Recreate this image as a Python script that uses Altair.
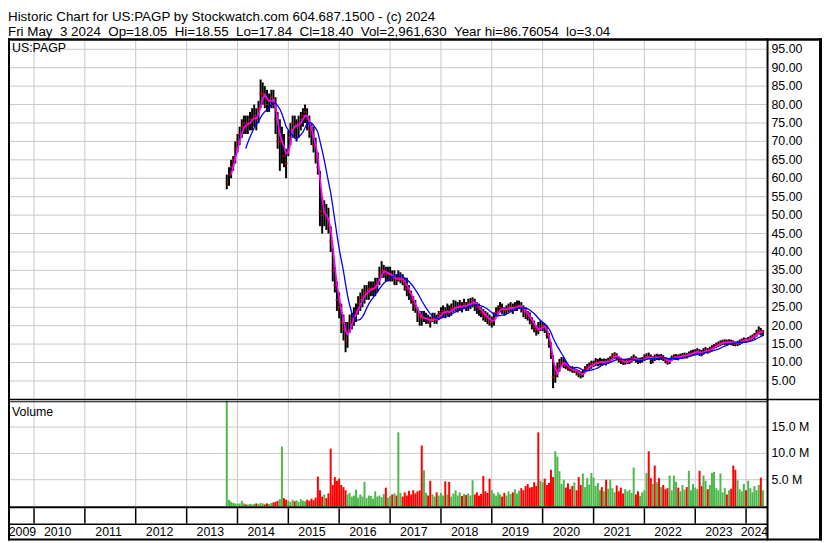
import altair as alt
import pandas as pd

# ------------------------------------------------------------------ texts
HEADER_1 = "Historic Chart for US:PAGP by Stockwatch.com 604.687.1500 - (c) 2024"
HEADER_2 = "Fri May  3 2024  Op=18.05  Hi=18.55  Lo=17.84  Cl=18.40  Vol=2,961,630  Year hi=86.76054  lo=3.04"
SYMBOL = "US:PAGP"
VOLUME_TITLE = "Volume"

# ------------------------------------------------------------------ axis values
PRICE_TICKS = [5, 10, 15, 20, 25, 30, 35, 40, 45, 50, 55, 60, 65, 70, 75, 80, 85, 90, 95]
VOL_TICKS = [5, 10, 15]                      # millions
VOL_TICK_LABELS = ["5.0 M", "10.0 M", "15.0 M"]
YEAR_BOUNDS = [f"{y}-01-01" for y in range(2010, 2025)]
YEAR_LABELS = [str(y) for y in range(2009, 2025)]
YEAR_LABEL_DATES = ["2009-10-10"] + [f"{y}-06-20" for y in range(2010, 2024)] + ["2024-03-01"]

# ------------------------------------------------------------------ price data (semi-monthly, 1st / 16th)
START = "2013-10-16"
END = "2024-05-01"

HIGH = [
    61, 63, 65, 66, 70,                                                    # 2013
    72, 74, 76, 77, 77, 77, 78, 79, 80, 79, 81, 86.8,
    86, 85, 84, 83, 84, 84, 82, 78, 76, 74, 72, 68,                        # 2014
    73, 75, 77, 77, 76, 77, 78, 79, 80, 79, 77, 75,
    74, 71, 67, 62, 55, 54, 53, 52, 47, 41, 36, 32,                        # 2015
    29, 26, 23, 21, 21, 23, 23.5, 25, 26, 28, 29, 30,
    31, 31, 32, 32, 32, 33, 33, 36, 37.5, 36.5, 36, 36,                    # 2016
    36, 35, 35, 34, 35, 34.5, 34, 33, 33, 31, 29.5, 28,
    27, 25, 24, 24, 24, 23.5, 23, 22.5, 23.5, 23.5, 23, 24,                # 2017
    25, 25.5, 25, 26, 25.5, 26, 27, 26.8, 26.4, 27, 26.4, 27.3,
    26.4, 27.3, 27.5, 27.7, 27.3, 26.4, 26, 25, 24.5, 24, 23.6, 23,        # 2018
    22.5, 23.6, 25, 25.5, 26.4, 26, 25, 25.5, 26, 26.4, 26, 26.4,
    26.8, 26.8, 26.4, 25.5, 25, 24, 23.6, 22.3, 21.4, 20, 21, 21.4,        # 2019
    21, 20.5, 20, 18, 15.5, 12, 9, 10, 11, 11.5, 11.3, 10.5,
    9.5, 9, 9, 8.6, 8.2, 8, 7.6, 8, 9, 9.6, 10, 10.5,                      # 2020
    10.5, 11.2, 11, 11.3, 11, 11.1, 11, 11.3, 11.7, 12.5, 12.8, 12.5,
    11.7, 11.3, 11, 11, 11.1, 11.3, 11.7, 12.2, 11.7, 11.3, 11.3, 11.5,    # 2021
    12.2, 12.5, 12.7, 12.2, 11.7, 12.2, 12.4, 12.2, 12.3, 12, 11.5, 11,
    11.3, 11.9, 12.2, 12.3, 12.2, 12.4, 12.6, 12.7, 12.6, 13, 13.3, 13.5,  # 2022
    13.6, 13.9, 13.6, 13.4, 13.9, 14.2, 13.9, 14.3, 14.7, 15, 15.4, 15.7,
    16, 16.2, 16.3, 16.2, 16.3, 16.2, 16, 15.7, 15.9, 16.2, 16.5, 16.8,    # 2023
    16.6, 16.9, 17.3, 17.6, 18, 18.9, 19.8, 19.4, 18.8,                    # 2024
]
LOW = [
    57, 58, 60, 62, 64,
    67, 69, 71, 72, 72, 72, 73, 73, 74, 73, 75, 79,
    80, 79, 78, 78, 79, 79, 72, 68, 62, 64, 63, 60,
    66, 69, 71, 71, 70, 71, 73, 74, 75, 73, 71, 69,
    67, 64, 61, 47, 45, 47, 46, 45, 40, 32, 29, 24,
    22, 18, 16, 12.8, 14, 18, 19, 20, 21, 23, 24, 25,
    26, 27, 27, 28, 28, 28, 29, 31, 33, 33, 32, 32,
    32, 32, 31, 31, 32, 31.5, 31, 29.5, 28, 27, 26, 24,
    23.5, 21, 20, 20, 21, 20.5, 20.5, 19.5, 21, 20.5, 20.5, 21.5,
    22, 22.3, 22, 22.7, 22.3, 22.7, 23.6, 24, 23.6, 24, 23.6, 24.5,
    24, 24, 24.5, 25, 24, 23.2, 22.7, 22.3, 21.4, 21, 20.4, 20,
    19.5, 20, 22.3, 22.7, 23.6, 23.2, 22.7, 23.2, 23.6, 23.6, 23.2, 24,
    24, 24.5, 23.6, 22.3, 21.8, 21.4, 20.4, 19, 18.2, 17.3, 17.7, 18.6,
    18.5, 18, 16.5, 14, 11, 3.04, 4.5, 6, 7.5, 8.8, 8.5, 8.2,
    7.8, 7.6, 7.2, 7.2, 6.5, 6, 5.7, 6, 7.2, 7.6, 7.8, 8.3,
    8.8, 9, 9, 9.2, 9.2, 9.3, 9.2, 9.6, 10, 10.7, 11, 10.7,
    10, 9.6, 9.4, 9.4, 9.6, 9.6, 10, 10.4, 10, 9.6, 9.8, 10,
    10.4, 10.7, 11, 9.6, 9.8, 10.4, 10.7, 10.6, 10.7, 10.4, 9.8, 9.4,
    9.6, 10.4, 10.7, 10.7, 10.6, 11, 11, 11.2, 11.1, 11.5, 11.7, 11.8,
    12, 12.2, 11.8, 11.7, 12.1, 12.5, 12.4, 12.7, 13.1, 13.6, 13.9, 14.2,
    14.5, 14.7, 14.8, 14.7, 14.9, 14.7, 14.5, 14.4, 14.5, 14.7, 15.1, 15.3,
    15.3, 15.5, 15.8, 16, 16.4, 17, 17.6, 17.3, 17.2,
]
CLOSE = [
    59, 61, 63, 65, 68,
    70, 72, 74, 75, 74, 75, 76, 76, 77, 76, 79, 83,
    83, 82, 80, 81, 82, 81, 76, 70, 70, 70, 66, 64,
    71, 73, 75, 74, 74, 75, 76, 77, 78, 76, 73, 72,
    69, 66, 63, 51, 50, 51, 49, 47, 43, 35, 31, 27,
    25, 21, 19, 16, 18, 21, 22, 23, 24, 26, 27, 28,
    29, 29, 30, 30, 30, 31, 32, 34, 35, 35, 34, 34,
    34, 33, 33, 32, 33, 33, 32, 31, 30, 29, 27, 26,
    25, 23, 22.5, 22, 22, 22, 21.5, 21, 22, 22, 21.5, 23,
    23.5, 24, 23.5, 24, 23.5, 24.5, 25, 25, 25, 25.5, 25, 26,
    25, 26, 26, 27, 26, 25, 24.5, 23.5, 23, 22.5, 22, 21,
    21, 22, 23.5, 24, 25, 24.5, 24, 24.5, 25, 25, 24.5, 25,
    25.5, 25.5, 25, 24, 23.5, 22.5, 22, 20.5, 19.5, 19, 18.6, 20,
    20, 19.5, 17.5, 15, 12, 6, 7, 8, 9.5, 10, 10, 9,
    8.5, 8.3, 8, 8, 7.5, 7, 6.5, 7, 8.3, 8.7, 9, 9.5,
    9.6, 10, 10, 10.3, 10, 10.2, 10, 10.5, 10.8, 11.8, 12.2, 11.5,
    10.8, 10.5, 10, 10.2, 10.3, 10.5, 11, 11.3, 10.9, 10.5, 10.6, 10.8,
    11.2, 11.6, 11.5, 10.8, 11.5, 11.2, 11.6, 11.4, 11.5, 11.2, 10.6, 10,
    10.5, 11.2, 11.5, 11.6, 11.4, 11.7, 11.9, 12, 11.9, 12.3, 12.5, 12.7,
    12.9, 13.1, 12.6, 12.5, 13, 13.4, 13.2, 13.6, 14, 14.4, 14.7, 15,
    15.3, 15.5, 15.6, 15.4, 15.7, 15.5, 15.2, 15, 15.3, 15.6, 16, 16.2,
    16, 16.3, 16.7, 17, 17.4, 18, 18.8, 18.2, 18.4,
]
VOLUME = [  # millions
    20.0, 1.2, 0.8, 0.6, 0.5,
    0.4, 0.5, 1.0, 0.5, 0.3, 0.3, 0.4, 0.3, 0.4, 0.5, 0.4, 0.6,
    0.5, 0.3, 0.5, 0.4, 0.6, 0.7, 0.8, 1.0, 1.3, 11.3, 1.5, 1.2,
    1.0, 0.8, 1.2, 0.9, 1.1, 0.8, 1.3, 1.0, 0.9, 1.2, 1.0, 1.4,
    1.1, 1.6, 5.6, 3.0, 1.8, 2.2, 1.5, 2.4, 10.9, 4.0, 5.5, 4.8,
    5.2, 4.0, 3.6, 3.0, 2.2, 2.5, 1.8, 2.0, 3.1, 1.6, 2.2, 1.8,
    4.6, 1.5, 2.0, 1.9, 1.4, 2.8, 1.8, 2.0, 1.7, 2.3, 3.5, 1.6,
    1.9, 2.2, 2.4, 2.0, 14.0, 2.5, 1.8, 2.6, 2.0, 2.9, 2.2, 3.0,
    2.4, 2.8, 3.0, 11.5, 6.8, 2.5, 2.0, 4.8, 2.2, 1.8, 2.6, 2.0,
    2.5, 2.0, 4.7, 2.2, 4.6, 1.8, 2.4, 3.0, 2.0, 2.6, 1.9, 2.3,
    2.1, 2.4, 2.0, 4.9, 2.2, 2.6, 2.0, 2.3, 5.7, 2.8, 2.5, 5.2,
    3.0, 2.4, 2.0, 2.6, 2.2, 1.8, 2.5, 2.0, 2.8, 2.3, 2.6, 3.2,
    2.4, 2.9, 3.4, 3.0, 3.8, 4.2, 3.5, 3.6, 4.5, 3.8, 14.0, 4.8,
    4.5, 5.2, 4.0, 4.4, 6.9, 5.5, 10.4, 9.4, 6.6, 4.2, 5.0, 3.5,
    4.3, 3.2, 3.8, 4.5, 3.0, 5.5, 4.0, 6.2, 3.6, 5.3, 4.1, 6.3,
    5.4, 3.8, 4.4, 3.0, 3.6, 2.8, 5.0, 3.3, 5.0, 3.4, 2.6, 3.9,
    2.8, 3.5, 2.4, 3.2, 2.8, 3.1, 2.5, 7.3, 2.2, 2.8, 1.9, 2.6,
    3.0, 6.3, 10.4, 5.3, 4.2, 7.7, 4.5, 5.3, 3.6, 4.0, 3.2, 3.4,
    5.8, 3.0, 5.8, 4.6, 3.5, 2.8, 4.0, 3.1, 3.6, 6.7, 3.0, 4.2,
    3.5, 3.2, 6.7, 3.8, 5.8, 4.8, 3.2, 4.0, 6.3, 6.5, 3.4, 3.0,
    6.2, 2.6, 3.4, 2.2, 3.0, 3.3, 7.7, 6.9, 4.9, 3.2, 2.8, 4.2,
    3.0, 4.8, 3.4, 2.6, 3.8, 3.0, 4.0, 5.4, 3.0,
]

# semi-monthly sample dates
DATES = []
for yr in range(2013, 2025):
    for mo in range(1, 13):
        for dd in (1, 16):
            s = f"{yr}-{mo:02d}-{dd:02d}"
            if START <= s <= END:
                DATES.append(s)
assert len(DATES) == len(HIGH) == len(LOW) == len(CLOSE) == len(VOLUME), (
    len(DATES), len(HIGH), len(LOW), len(CLOSE), len(VOLUME))

DIRECTION = ["up"] + ["up" if CLOSE[i] >= CLOSE[i - 1] else "down" for i in range(1, len(CLOSE))]

df = pd.DataFrame({"date": DATES, "hi": HIGH, "lo": LOW, "close": CLOSE,
                   "vol": VOLUME, "dir": DIRECTION})

# ------------------------------------------------------------------ layout / style
FONT = "Liberation Sans"
GRID = "#c8c8c8"
W_TOTAL, H_TOTAL = 822, 507
W_PLOT = 766
LAB_SIZE = 12.5
HEAD_SIZE = 13.5

XS = alt.Scale(domain=[alt.DateTime(year=2009, month=6, date=28),
                       alt.DateTime(year=2024, month=5, date=27)],
               range=[0, W_PLOT])
PS = alt.Scale(domain=[0, 97.3], range=[364.6, 2.5], nice=False, zero=False)
VS = alt.Scale(domain=[0, 20], range=[472.3, 366], nice=False, clamp=True)

one = pd.DataFrame({"k": [0]})


def hline(y, x1, x2, w):
    return alt.Chart(one).mark_rule(color="black", strokeWidth=w).encode(
        x=alt.value(x1), x2=alt.value(x2), y=alt.value(y))


def vline(x, y1, y2, w):
    return alt.Chart(one).mark_rule(color="black", strokeWidth=w).encode(
        x=alt.value(x), y=alt.value(y1), y2=alt.value(y2))


def label_text(align="left", size=LAB_SIZE, baseline="middle"):
    return dict(font=FONT, fontSize=size, color="black", align=align, baseline=baseline)


X = alt.X("date:T", scale=XS, axis=None)

bounds_df = pd.DataFrame({"d": YEAR_BOUNDS})
vgrid = alt.Chart(bounds_df).mark_rule(color=GRID, strokeWidth=1).encode(
    x=alt.X("d:T", scale=XS, axis=None), y=alt.value(2.5), y2=alt.value(472.5))
year_sep = alt.Chart(bounds_df).mark_rule(color="black", strokeWidth=1.5).encode(
    x=alt.X("d:T", scale=XS, axis=None), y=alt.value(474.5), y2=alt.value(490))

ptick_df = pd.DataFrame({"v": PRICE_TICKS})
pgrid = alt.Chart(ptick_df).mark_rule(color=GRID, strokeWidth=1).encode(
    y=alt.Y("v:Q", scale=PS, axis=None), x=alt.value(0), x2=alt.value(W_PLOT))
plabels = alt.Chart(ptick_df).mark_text(**label_text()).encode(
    y=alt.Y("v:Q", scale=PS, axis=None), x=alt.value(771), text=alt.Text("v:Q", format=".2f"))

vtick_df = pd.DataFrame({"v": VOL_TICKS, "lab": VOL_TICK_LABELS})
vgrid2 = alt.Chart(vtick_df).mark_rule(color=GRID, strokeWidth=1).encode(
    y=alt.Y("v:Q", scale=VS, axis=None), x=alt.value(0), x2=alt.value(W_PLOT))
vlabels = alt.Chart(vtick_df).mark_text(**label_text()).encode(
    y=alt.Y("v:Q", scale=VS, axis=None), x=alt.value(771), text="lab:N")

vol_bars = alt.Chart(df).mark_rule(strokeWidth=2).encode(
    x=X, y=alt.Y("vol:Q", scale=VS, axis=None), y2=alt.datum(0),
    color=alt.Color("dir:N", scale=alt.Scale(domain=["up", "down"], range=["#4cb84c", "#ff0000"]),
                    legend=None))

price_bars = alt.Chart(df).mark_rule(color="black", strokeWidth=2).encode(
    x=X, y=alt.Y("lo:Q", scale=PS, axis=None), y2="hi:Q")

close_ticks = alt.Chart(df).mark_tick(color="#ff0000", thickness=1.5, size=3, orient="horizontal").encode(
    x=X, y=alt.Y("close:Q", scale=PS, axis=None))

ma_slow = alt.Chart(df).transform_window(
    ma="mean(close)", frame=[-9, 0]).transform_window(
    rn="row_number()").transform_filter("datum.rn >= 10").mark_line(
    color="#0000ff", strokeWidth=1.3).encode(x=X, y=alt.Y("ma:Q", scale=PS, axis=None))

ma_fast = alt.Chart(df).transform_window(
    ma="mean(close)", frame=[-2, 0]).transform_window(
    rn="row_number()").transform_filter("datum.rn >= 3").mark_line(
    color="#ff00ff", strokeWidth=1.7).encode(x=X, y=alt.Y("ma:Q", scale=PS, axis=None))

ylab_df = pd.DataFrame({"d": YEAR_LABEL_DATES, "t": YEAR_LABELS})
year_labels = alt.Chart(ylab_df).mark_text(**label_text(align="center")).encode(
    x=alt.X("d:T", scale=XS, axis=None), y=alt.value(499), text="t:N")

NB = "\u00a0"
head_df = pd.DataFrame({"t": [HEADER_1, HEADER_2.replace("  ", " " + NB)]})
header1 = alt.Chart(head_df.iloc[[0]]).mark_text(
    **label_text(size=HEAD_SIZE, baseline="alphabetic")).encode(
    x=alt.value(0), y=alt.value(-17), text="t:N")
header2 = alt.Chart(head_df.iloc[[1]]).mark_text(
    **label_text(size=HEAD_SIZE, baseline="alphabetic")).encode(
    x=alt.value(0), y=alt.value(-2.5), text="t:N")

panel_df = pd.DataFrame({"t": [SYMBOL, VOLUME_TITLE]})
sym_lab = alt.Chart(panel_df.iloc[[0]]).mark_text(**label_text()).encode(
    x=alt.value(4), y=alt.value(9.5), text="t:N")
vol_lab = alt.Chart(panel_df.iloc[[1]]).mark_text(**label_text()).encode(
    x=alt.value(4), y=alt.value(377), text="t:N")

frame = [
    hline(1.25, 0, W_TOTAL, 2.5),          # top
    hline(364.8, 0, W_TOTAL, 1.6),         # price bottom
    hline(367.0, 0, W_PLOT + 1, 1.2),      # volume top
    hline(473.5, 0, W_PLOT + 1, 2),        # volume bottom
    hline(490.8, 0, W_PLOT + 1, 1.5),      # year row divider
    hline(506.2, 0, W_TOTAL, 2),           # bottom
    vline(1, 0, H_TOTAL, 2),               # left
    vline(W_PLOT + 1, 0, H_TOTAL, 2),      # plot right
    vline(W_TOTAL - 1.5, 0, H_TOTAL, 3),   # outer right
]

chart = alt.layer(
    vgrid, pgrid, vgrid2,
    vol_bars, price_bars, close_ticks, ma_fast, ma_slow,
    *frame, year_sep,
    plabels, vlabels, year_labels, header1, header2, sym_lab, vol_lab,
).resolve_scale(y="independent").properties(
    width=W_TOTAL, height=H_TOTAL,
    autosize=alt.AutoSizeParams(type="none"),
    padding={"top": 28, "left": 0, "right": 0, "bottom": 0},
    background="white",
).configure_view(strokeWidth=0)

chart.save("out.html", embed_options={"renderer": "svg", "actions": False})
